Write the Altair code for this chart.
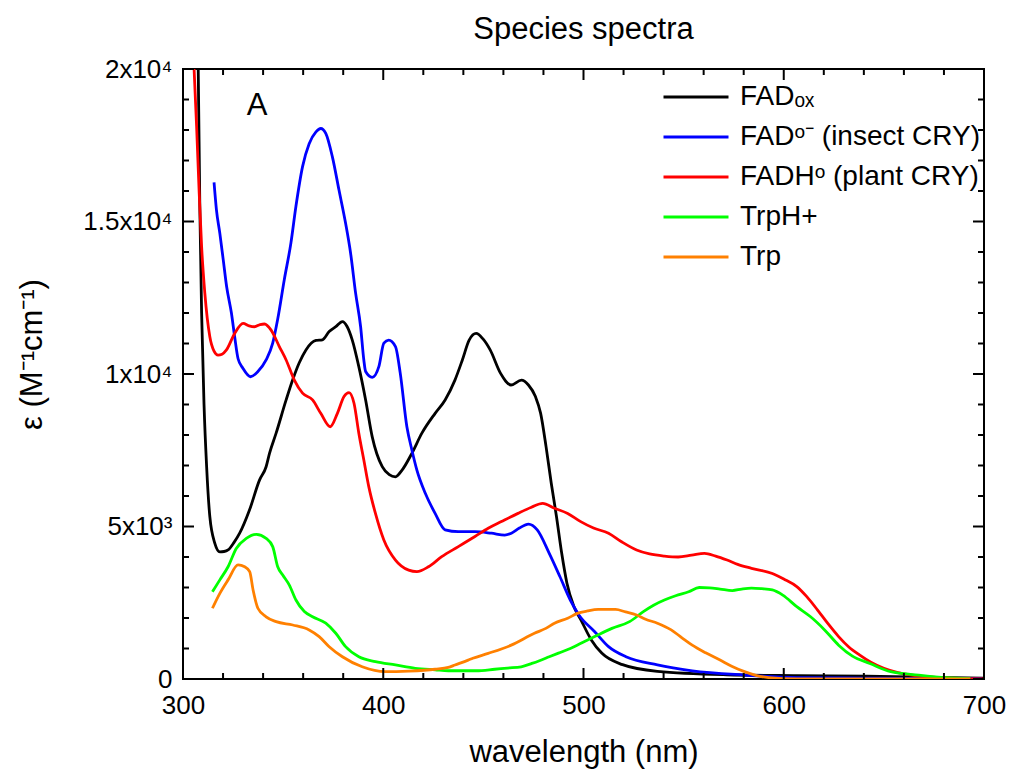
import altair as alt
import pandas as pd

# ---------------- data ----------------
labels = ["FADₒₓ", "FADᵒ⁻ (insect CRY)", "FADHᵒ (plant CRY)", "TrpH+", "Trp"]
colors = ["#000000", "#0000FF", "#FF0000", "#00FF00", "#FF8000"]

fadox_wl = [307.0, 307.6, 308.4, 309.3, 310.5, 311.8, 313.4, 315.9, 318.4, 320.5, 322.5, 325.5,
            328.3, 333.2, 338.2, 341.5, 343.2, 346.5, 351.5, 355.0, 358.0, 361.4, 366.4, 369.6,
            373.0, 376.3, 379.6, 382.0, 384.5, 387.8, 391.2, 394.5, 399.5, 403.0, 406.1, 409.4,
            414.3, 419.3, 425.9, 430.9, 435.8, 439.5, 442.9, 446.4, 449.8, 453.4, 458.6, 463.8,
            469.0, 472.5, 476.0, 478.6, 481.3, 483.9, 486.5, 489.1, 491.7, 495.2, 498.7, 503.9,
            509.1, 519.5, 536.9, 571.6, 606.5, 641.3, 670.0, 699.5]
fadox_val = [22000, 20000, 15500, 12000, 9000, 6960, 5320, 4450, 4170, 4180, 4230, 4480,
             4780, 5540, 6520, 6960, 7400, 8060, 9150, 9850, 10360, 10790, 11100, 11120,
             11390, 11550, 11720, 11550, 11120, 10240, 9150, 7940, 6960, 6700, 6630, 6850,
             7400, 8060, 8710, 9150, 9800, 10460, 11110, 11330, 11150, 10790, 10020, 9640,
             9800, 9640, 9260, 8710, 7620, 6420, 5330, 4130, 3150, 2380, 1940, 1280,
             850, 470, 250, 140, 110, 90, 60, 30]

fadm_wl = [315.5, 316.7, 318.4, 320.1, 321.8, 324.2, 325.8, 327.5, 329.9, 333.7, 337.4, 341.5,
           344.8, 347.3, 350.6, 353.9, 356.4, 359.7, 363.0, 366.4, 368.8, 371.3, 374.6,
           377.9, 381.2, 383.7, 386.2, 388.7, 390.3, 391.2, 394.5, 397.8, 400.3, 402.7, 406.1,
           408.5, 411.8, 414.3, 416.8, 421.0, 425.9, 430.9, 437.5, 445.8, 454.0, 460.7, 464.0,
           468.0, 472.5, 476.9, 482.9, 488.2, 493.4, 497.7, 505.6, 512.5, 521.2, 536.9, 554.3,
           580.4, 606.5, 641.0, 699.0]
fadm_val = [16280, 15380, 14610, 13740, 12860, 11990, 11220, 10500, 10190, 9910, 10080, 10460,
            11010, 11800, 13100, 14300, 15500, 16800, 17550, 17940, 18050, 17890, 17120,
            16030, 14940, 13960, 12650, 11550, 10460, 10080, 9890, 10240, 11010, 11110, 10900,
            10020, 8270, 7510, 6850, 6090, 5430, 4890, 4830, 4830, 4780, 4720, 4780,
            4950, 5080, 4890, 4120, 3360, 2590, 2100, 1550, 1060, 730, 460, 270,
            130, 45, 30, 10]

fadh_wl = [305.2, 306.8, 308.1, 309.3, 310.9, 313.4, 315.5, 317.5, 319.5, 321.7, 325.8, 330.0,
           333.0, 335.7, 338.5, 340.7, 344.0, 348.1, 351.5, 355.6, 359.7, 364.7, 368.8, 373.5,
           377.1, 380.4, 382.9, 385.4, 387.8, 390.3, 392.8, 396.1, 400.3, 406.1, 412.7, 416.8,
           422.6, 429.2, 437.5, 445.8, 452.4, 459.0, 467.3, 474.0, 479.6, 485.5, 492.1, 498.6,
           505.0, 512.5, 519.0, 526.5, 533.0, 540.4, 547.3, 554.0, 560.4, 566.0, 571.7, 577.0,
           583.9, 594.3, 600.0, 606.5, 611.5, 616.9, 622.0, 627.4, 632.5, 637.8, 643.5, 650.0,
           657.0, 663.9, 671.0, 679.5, 690.0, 699.5]
fadh_val = [20500, 18110, 15920, 14170, 12650, 11220, 10750, 10620, 10650, 10790, 11330, 11660,
            11580, 11550, 11620, 11640, 11440, 10900, 10460, 9800, 9370, 9150, 8710, 8270,
            8710, 9260, 9390, 9040, 8060, 7180, 6300, 5430, 4560, 3900, 3570, 3520,
            3680, 4010, 4340, 4670, 4940, 5160, 5430, 5630, 5760, 5600, 5430, 5160,
            4950, 4780, 4500, 4230, 4100, 4030, 4000, 4060, 4120, 4030, 3900, 3760,
            3630, 3460, 3280, 3030, 2700, 2260, 1820, 1390, 1050, 790, 550, 350,
            210, 130, 80, 45, 15, 0]

trph_wl = [314.7, 318.4, 322.5, 326.6, 331.6, 336.6, 341.5, 344.8, 347.3, 349.8, 353.1, 356.4,
           360.6, 364.7, 371.3, 376.3, 381.2, 387.8, 396.1, 406.1, 416.0, 425.9, 432.5, 442.4,
           446.4, 455.7, 462.0, 468.9, 474.2, 478.0, 482.9, 487.5, 493.4, 499.0, 505.6, 514.2,
           523.0, 529.9, 535.0, 540.4, 546.0, 552.5, 557.8, 563.0, 568.2, 574.3, 579.0, 583.9,
           589.0, 594.3, 599.5, 606.5, 613.4, 620.4, 627.4, 634.3, 643.0, 653.4, 667.4, 681.3,
           693.2]
trph_val = [2860, 3250, 3680, 4280, 4610, 4740, 4610, 4340, 3680, 3410, 3080, 2590,
            2210, 2040, 1830, 1500, 1060, 730, 570, 460, 350, 300, 270, 270,
            270, 320, 360, 400, 510, 600, 730, 850, 1000, 1180, 1390, 1660,
            1880, 2210, 2420, 2590, 2730, 2860, 3000, 2990, 2950, 2900, 2950, 2980,
            2960, 2920, 2750, 2370, 2040, 1610, 1110, 750, 510, 240, 130, 45,
            10]

trp_wl = [314.7, 318.4, 322.5, 327.5, 330.8, 333.3, 335.0, 337.4, 341.5, 346.5, 354.8, 363.0,
          368.0, 373.0, 379.6, 389.5, 401.1, 412.7, 425.9, 432.5, 435.8, 442.4, 444.7, 452.4,
          463.9, 475.5, 481.2, 485.5, 492.1, 496.9, 502.0, 507.3, 516.0, 521.0, 526.5, 531.0,
          536.9, 543.8, 549.0, 554.3, 561.0, 568.2, 574.0, 580.4, 586.0, 592.5, 606.5, 650.0,
          693.0]
trp_val = [2320, 2810, 3250, 3740, 3680, 3520, 2920, 2320, 2040, 1880, 1770, 1610,
           1390, 1060, 730, 400, 240, 260, 320, 380, 460, 620, 680, 840,
           1110, 1500, 1660, 1830, 1990, 2150, 2230, 2280, 2280, 2200, 2100, 1960,
           1830, 1610, 1360, 1110, 860, 620, 420, 240, 120, 45, 0, 0,
           0]

x_major_ticks = [300, 400, 500, 600, 700]
x_minor_ticks = [320, 340, 360, 380, 420, 440, 460, 480, 520, 540, 560, 580, 620, 640, 660, 680]
y_major_ticks = [0, 5000, 10000, 15000, 20000]
y_tick_labels = ["0", "5x10³", "1x10⁴", "1.5x10⁴", "2x10⁴"]
y_minor_ticks = [v for v in range(1000, 20000, 1000) if v % 5000 != 0]

panel_label = ["A"]
panel_label_x = [337]
panel_label_y = [18800]

# ---------------- build tables ----------------
series = [(fadox_wl, fadox_val), (fadm_wl, fadm_val), (fadh_wl, fadh_val),
          (trph_wl, trph_val), (trp_wl, trp_val)]
rows = []
for i, (wl, val) in enumerate(series):
    for w, v in zip(wl, val):
        rows.append({"wl": w, "eps": v, "species": labels[i], "order": i})
df = pd.DataFrame(rows)

W, H = 801, 610
FONT = "Liberation Sans"
xscale = alt.Scale(domain=[300, 700], nice=False, zero=False)
yscale = alt.Scale(domain=[0, 20000], nice=False, zero=False)

label_expr = " : ".join(
    f"datum.value == {v} ? '{t}'" for v, t in zip(y_major_ticks, y_tick_labels)
) + " : ''"

x_axis = alt.Axis(values=x_major_ticks, title="wavelength (nm)", labelFlush=False,
                  labelFontSize=26, labelPadding=13, titleFontSize=31,
                  titlePadding=19, ticks=False, domain=False, grid=False)
y_axis = alt.Axis(values=y_major_ticks, labelExpr=label_expr, title="ε (M⁻¹cm⁻¹)",
                  labelFontSize=26, labelPadding=11, titleFontSize=31,
                  titlePadding=34, titleY=285, ticks=False, domain=False, grid=False)

lines = alt.Chart(df).mark_line(strokeWidth=2.8, clip=True, interpolate="monotone").encode(
    x=alt.X("wl:Q", scale=xscale, axis=x_axis, title="wavelength (nm)"),
    y=alt.Y("eps:Q", scale=yscale, axis=y_axis, title="ε (M⁻¹cm⁻¹)"),
    color=alt.Color("species:N", sort=labels,
                    scale=alt.Scale(domain=labels, range=colors),
                    legend=alt.Legend(orient="none", legendX=479, legendY=8, title=None,
                                      symbolType="stroke", symbolSize=4225,
                                      symbolStrokeWidth=3, labelFontSize=28,
                                      labelFont=FONT, labelOffset=10, rowPadding=0,
                                      clipHeight=40, padding=0, labelLimit=400)),
    detail="order:N",
    order=alt.Order("order:Q"),
)

def xenc(field):
    return alt.X(field, scale=xscale, axis=x_axis, title="wavelength (nm)")

def yenc(field):
    return alt.Y(field, scale=yscale, axis=y_axis, title="ε (M⁻¹cm⁻¹)")

def xticks(vals, length):
    d = pd.DataFrame({"v": vals})
    base = alt.Chart(d).mark_rule(color="black", strokeWidth=2)
    bottom = base.encode(x=xenc("v:Q"), y=alt.value(H), y2=alt.value(H - length))
    top = base.encode(x=xenc("v:Q"), y=alt.value(0), y2=alt.value(length))
    return [bottom, top]

def yticks(vals, length):
    d = pd.DataFrame({"v": vals})
    base = alt.Chart(d).mark_rule(color="black", strokeWidth=2)
    left = base.encode(y=yenc("v:Q"), x=alt.value(0), x2=alt.value(length))
    right = base.encode(y=yenc("v:Q"), x=alt.value(W), x2=alt.value(W - length))
    return [left, right]

tick_layers = (xticks(x_major_ticks, 11) + xticks(x_minor_ticks, 6)
               + yticks(y_major_ticks, 11) + yticks(y_minor_ticks, 6))

label_df = pd.DataFrame({"x": panel_label_x, "y": panel_label_y, "t": panel_label})
panel = alt.Chart(label_df).mark_text(fontSize=31, font=FONT, color="black",
                                      baseline="middle", align="center").encode(
    x=xenc("x:Q"),
    y=yenc("y:Q"),
    text="t:N",
)

chart = alt.layer(lines, *tick_layers, panel).properties(
    width=W, height=H,
    title=alt.TitleParams("Species spectra", fontSize=31, font=FONT, fontWeight="normal",
                          anchor="middle", offset=10, color="black"),
    autosize=alt.AutoSizeParams(type="none"),
    padding={"left": 175, "top": 61, "right": 22, "bottom": 95},
).configure(font=FONT).configure_view(
    stroke="black", strokeWidth=2
).configure_axis(
    labelFont=FONT, titleFont=FONT, labelColor="black", titleColor="black",
    titleFontWeight="normal"
)

chart.save("out.html", embed_options={"renderer": "svg", "actions": False})
